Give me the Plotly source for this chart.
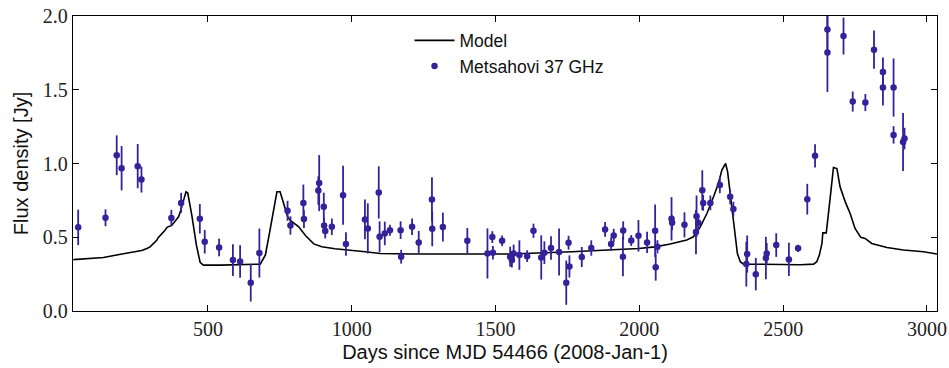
import plotly.graph_objects as go

# Metsahovi 37 GHz light curve: days since MJD 54466, flux density [Jy], 1-sigma error
obs_days = [49, 144, 183, 200, 256, 269, 373, 407, 472, 489, 539, 587, 612, 649, 679,
            777, 787, 832, 834, 884, 887, 903, 904, 908, 931, 970, 980,
            1046, 1056, 1094, 1097, 1115, 1133, 1170, 1172, 1210, 1233, 1279, 1280, 1317,
            1402, 1472, 1489, 1491, 1523, 1551, 1557, 1563, 1583, 1610, 1632, 1659, 1670,
            1693, 1721, 1746, 1754, 1757, 1800, 1833, 1881, 1902, 1911, 1944, 1943, 1972,
            1997, 2027, 2055, 2057, 2063, 2112, 2114, 2157, 2197, 2199, 2205, 2219, 2222,
            2247, 2280, 2316, 2327, 2372, 2375, 2405, 2440, 2443, 2476, 2520, 2552, 2584,
            2611, 2654, 2654, 2710, 2742, 2786, 2816, 2847, 2847, 2884, 2884, 2917, 2922]
obs_flux = [0.567, 0.632, 1.056, 0.968, 0.982, 0.891, 0.630, 0.733, 0.625, 0.470, 0.431,
            0.345, 0.336, 0.192, 0.393,
            0.679, 0.580, 0.733, 0.623, 0.817, 0.867, 0.706, 0.580, 0.542, 0.571, 0.785, 0.454,
            0.621, 0.560, 0.804, 0.503, 0.526, 0.548, 0.548, 0.368, 0.571, 0.465, 0.756, 0.557,
            0.569,
            0.476, 0.390, 0.501, 0.395, 0.476, 0.368, 0.345, 0.390, 0.379, 0.372, 0.544, 0.363,
            0.395, 0.427, 0.400, 0.192, 0.463, 0.302, 0.366, 0.427, 0.553, 0.454, 0.512, 0.546,
            0.368, 0.478, 0.510, 0.465, 0.544, 0.296, 0.435, 0.625, 0.598, 0.584, 0.535, 0.643,
            0.598, 0.819, 0.733, 0.733, 0.855, 0.774, 0.691, 0.318, 0.386, 0.250, 0.359, 0.390,
            0.447, 0.350, 0.425, 0.758, 1.052, 1.909, 1.752, 1.864, 1.420, 1.413, 1.772, 1.621,
            1.515, 1.515, 1.194, 1.146, 1.169]
obs_err = [0.12, 0.057, 0.135, 0.15, 0.15, 0.088, 0.056, 0.068, 0.10, 0.08, 0.06,
           0.108, 0.11, 0.128, 0.166,
           0.068, 0.062, 0.124, 0.06, 0.096, 0.19, 0.096, 0.05, 0.05, 0.056, 0.20, 0.08,
           0.135, 0.17, 0.177, 0.105, 0.08, 0.037, 0.06, 0.047, 0.056, 0.078, 0.15, 0.118,
           0.098,
           0.087, 0.17, 0.04, 0.045, 0.036, 0.068, 0.05, 0.06, 0.10, 0.04, 0.048, 0.15,
           0.077, 0.08, 0.16, 0.15, 0.047, 0.075, 0.068, 0.052, 0.05, 0.045, 0.045, 0.062,
           0.133, 0.037, 0.107, 0.072, 0.178, 0.09, 0.045, 0.147, 0.05, 0.085, 0.15, 0.14,
           0.05, 0.135, 0.053, 0.05, 0.056, 0.05, 0.05, 0.152, 0.126, 0.11, 0.144, 0.07,
           0.08, 0.113, 0.025, 0.104, 0.079, 0.15, 0.267, 0.125, 0.068, 0.058, 0.13, 0.098,
           0.122, 0.197, 0.059, 0.197, 0.073]

# Model light curve
model_days = [32, 137, 206, 270, 288, 299, 322, 328, 351, 358, 375, 398, 404, 413, 424,
              430, 444, 460, 473, 484, 543, 682, 700, 716, 730, 740, 751, 763, 778, 792,
              815, 840, 868, 896, 942, 1047, 1099, 1208, 1551, 1766, 1881, 1997, 2055,
              2107, 2165, 2188, 2211, 2235, 2258, 2275, 2287, 2300, 2307, 2318, 2330, 2341,
              2351, 2362, 2560, 2606, 2617, 2626, 2635, 2638, 2650, 2654, 2664, 2675, 2687,
              2698, 2716, 2733, 2750, 2770, 2785, 2808, 2861, 2918, 2988, 3035]
model_flux = [0.348, 0.363, 0.388, 0.410, 0.424, 0.435, 0.480, 0.499, 0.548, 0.567, 0.582,
              0.639, 0.672, 0.729, 0.808, 0.800, 0.650, 0.447, 0.330, 0.311, 0.311, 0.318,
              0.380, 0.548, 0.718, 0.808, 0.808, 0.730, 0.635, 0.605, 0.573, 0.510, 0.455,
              0.435, 0.422, 0.402, 0.390, 0.386, 0.386, 0.402, 0.413, 0.424, 0.435, 0.454,
              0.481, 0.503, 0.567, 0.661, 0.774, 0.864, 0.955, 1.000, 0.943, 0.774, 0.571,
              0.390, 0.334, 0.318, 0.314, 0.318, 0.334, 0.379, 0.458, 0.530, 0.530, 0.594,
              0.774, 0.973, 0.966, 0.842, 0.740, 0.661, 0.560, 0.499, 0.492, 0.458, 0.431,
              0.413, 0.402, 0.386]

x_ticks = [500, 1000, 1500, 2000, 2500, 3000]
y_ticks = [0.0, 0.5, 1.0, 1.5, 2.0]

DOT = "#33229a"
tick_font = dict(family="Liberation Serif", size=20, color="#222222")
label_font = dict(family="Liberation Sans", size=20, color="#111111")

fig = go.Figure()
fig.add_trace(go.Scatter(
    x=model_days, y=model_flux, mode="lines", name="Model",
    line=dict(color="black", width=1.6),
))
fig.add_trace(go.Scatter(
    x=obs_days, y=obs_flux, mode="markers", name="Metsahovi 37 GHz",
    marker=dict(color=DOT, size=6.5, line=dict(width=0)),
    error_y=dict(type="data", array=obs_err, visible=True, color=DOT,
                 thickness=1.8, width=0),
))

axis_common = dict(
    showgrid=False, zeroline=False, showline=True, linecolor="black", linewidth=1.3,
    mirror="ticks", ticks="inside", ticklen=6, tickwidth=1, tickcolor="black",
    tickfont=tick_font, automargin=False,
)

fig.update_layout(
    width=949, height=368,
    margin=dict(l=73, r=12, t=16, b=57),
    paper_bgcolor="white", plot_bgcolor="white",
    showlegend=True,
    legend=dict(x=0.3895, y=0.978, xanchor="left", yanchor="top",
                bgcolor="rgba(0,0,0,0)", borderwidth=0,
                font=dict(family="Liberation Sans", size=17.5, color="#111111"),
                itemwidth=40),
    xaxis=dict(range=[31, 3035], tickvals=x_ticks,
               ticktext=[str(v) for v in x_ticks],
               title=dict(text="Days since MJD 54466 (2008-Jan-1)", font=label_font,
                          standoff=5),
               **axis_common),
    yaxis=dict(range=[0, 2], tickvals=y_ticks,
               ticktext=[f"{v:.1f}" for v in y_ticks],
               title=dict(text="Flux density [Jy]", font=label_font, standoff=8),
               **axis_common),
)

fig.write_html("out.html")
